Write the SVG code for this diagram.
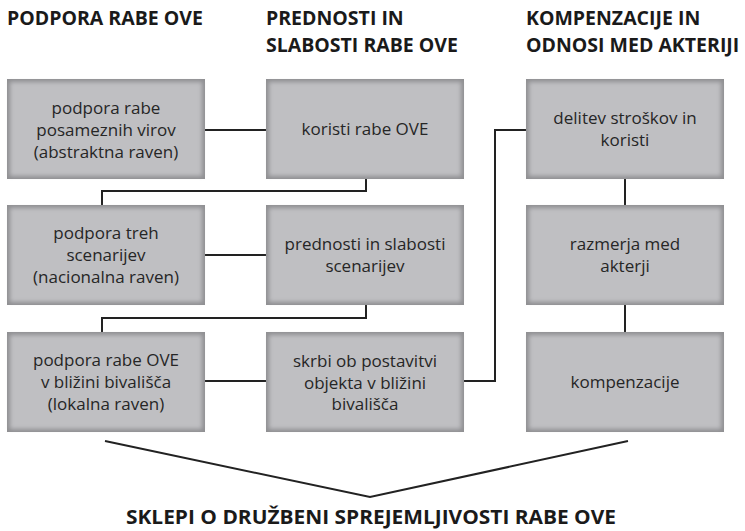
<svg xmlns="http://www.w3.org/2000/svg" width="745" height="531" viewBox="0 0 745 531">
<style>
.hdr{font-family:"Open Sans","Noto Sans",sans-serif;font-weight:bold;font-size:19.5px;fill:#1a1a1a}
.lbl{font-family:"Open Sans","Noto Sans",sans-serif;font-size:17px;fill:#262626;text-anchor:middle}
.outer{fill:#8f8f92}
.inner{fill:#bfbfc2;filter:url(#soft)}
.conn{fill:none;stroke:#222;stroke-width:2}
</style>
<defs>
<filter id="soft" x="-10%" y="-10%" width="120%" height="120%"><feGaussianBlur stdDeviation="2"/></filter>
</defs>
<rect width="745" height="531" fill="#fff"/>
<text class="hdr" x="7" y="25">PODPORA RABE OVE</text>
<text class="hdr" x="266" y="25">PREDNOSTI IN</text>
<text class="hdr" x="266" y="52">SLABOSTI RABE OVE</text>
<text class="hdr" x="526" y="25">KOMPENZACIJE IN</text>
<text class="hdr" x="526" y="52">ODNOSI MED AKTERIJI</text>

<g id="connectors">
<line class="conn" x1="205" y1="130" x2="266" y2="130"/>
<polyline class="conn" points="366,179 366,191 102,191 102,205"/>
<line class="conn" x1="205" y1="255" x2="266" y2="255"/>
<polyline class="conn" points="366,305 366,318 102,318 102,332"/>
<line class="conn" x1="205" y1="381" x2="266" y2="381"/>
<polyline class="conn" points="464,381 495,381 495,130 526,130"/>
<line class="conn" x1="625" y1="179" x2="625" y2="205"/>
<line class="conn" x1="625" y1="305" x2="625" y2="332"/>
<polyline class="conn" points="105,441 370,497 628,441"/>
</g>

<g id="n1"><rect class="outer" x="7" y="79" width="198" height="100"/><rect class="inner" x="10" y="82" width="192" height="94"/>
<text class="lbl" x="106" y="114">podpora rabe</text><text class="lbl" x="106" y="136">posameznih virov</text><text class="lbl" x="106" y="158">(abstraktna raven)</text></g>
<g id="n2"><rect class="outer" x="266" y="79" width="198" height="100"/><rect class="inner" x="269" y="82" width="192" height="94"/>
<text class="lbl" x="365" y="135">koristi rabe OVE</text></g>
<g id="n3"><rect class="outer" x="526" y="79" width="198" height="100"/><rect class="inner" x="529" y="82" width="192" height="94"/>
<text class="lbl" x="625" y="124">delitev stroškov in</text><text class="lbl" x="625" y="146">koristi</text></g>

<g id="n4"><rect class="outer" x="7" y="205" width="198" height="100"/><rect class="inner" x="10" y="208" width="192" height="94"/>
<text class="lbl" x="106" y="239">podpora treh</text><text class="lbl" x="106" y="261">scenarijev</text><text class="lbl" x="106" y="283">(nacionalna raven)</text></g>
<g id="n5"><rect class="outer" x="266" y="205" width="198" height="100"/><rect class="inner" x="269" y="208" width="192" height="94"/>
<text class="lbl" x="365" y="250">prednosti in slabosti</text><text class="lbl" x="365" y="272">scenarijev</text></g>
<g id="n6"><rect class="outer" x="526" y="205" width="198" height="100"/><rect class="inner" x="529" y="208" width="192" height="94"/>
<text class="lbl" x="625" y="250">razmerja med</text><text class="lbl" x="625" y="272">akterji</text></g>

<g id="n7"><rect class="outer" x="7" y="332" width="198" height="100"/><rect class="inner" x="10" y="335" width="192" height="94"/>
<text class="lbl" x="106" y="366">podpora rabe OVE</text><text class="lbl" x="106" y="388">v bližini bivališča</text><text class="lbl" x="106" y="410">(lokalna raven)</text></g>
<g id="n8"><rect class="outer" x="266" y="332" width="198" height="100"/><rect class="inner" x="269" y="335" width="192" height="94"/>
<text class="lbl" x="365" y="367">skrbi ob postavitvi</text><text class="lbl" x="365" y="389">objekta v bližini</text><text class="lbl" x="365" y="410">bivališča</text></g>
<g id="n9"><rect class="outer" x="526" y="332" width="198" height="100"/><rect class="inner" x="529" y="335" width="192" height="94"/>
<text class="lbl" x="625" y="388">kompenzacije</text></g>

<text class="hdr" x="371" y="524" text-anchor="middle" textLength="490" lengthAdjust="spacingAndGlyphs" style="font-size:19.5px">SKLEPI O DRUŽBENI SPREJEMLJIVOSTI RABE OVE</text>
</svg>
